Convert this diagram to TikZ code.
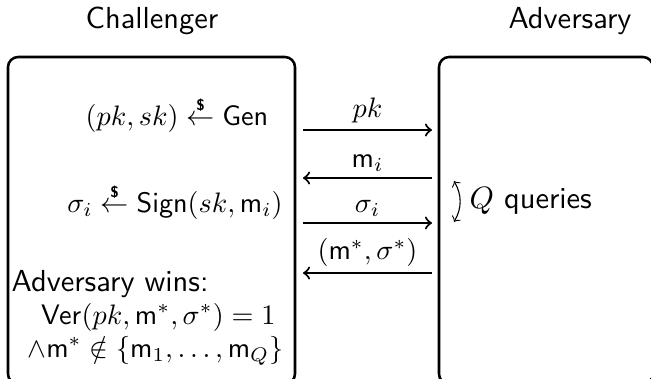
\documentclass[tikz,border=0pt]{standalone}
\usepackage{amsmath,amssymb}
\newcommand{\rnd}{\mathrel{\overset{\raisebox{-0.5ex}{\fontsize{5.5}{6}\sffamily\bfseries\$}}{\leftarrow}}}
\begin{document}
\begin{tikzpicture}[x=0.355pt,y=-0.355pt,font=\fontsize{10.8}{13}\sffamily,
  party/.style={draw,line width=0.9pt,rounded corners=3.6pt},
  msg/.style={line width=0.75pt,->},
  lbl/.style={anchor=base,inner sep=0pt},
  txt/.style={inner sep=0pt},
  mth/.style={inner sep=0pt,font=\fontsize{9.7}{12}\sffamily}]
\useasboundingbox (0,0) rectangle (651,378);
\clip (0,0) rectangle (651,378);
% headers
\node[lbl] (chal) at (152,28) {Challenger};
\node[lbl] (adv) at (570,28) {Adversary};
% boxes
\draw[party] (8,57) rectangle (295,384);
\draw[party] (439,57) rectangle (653,384);
% challenger contents
\node[mth,anchor=base] (gen) at (177,125) {$(pk,sk)\rnd\mathsf{Gen}$};
\node[mth,anchor=base] (sign) at (175,212) {$\sigma_i\rnd\mathsf{Sign}(sk,\mathsf{m}_i)$};
\node[txt,anchor=base west] (wins) at (11,291) {Adversary wins:};
\node[mth,anchor=base east] (ver) at (276,324) {$\mathsf{Ver}(pk,\mathsf{m}^*,\sigma^*)=1$};
\node[mth,anchor=base east] (notin) at (284,357) {$\wedge\mathsf{m}^*\notin\{\mathsf{m}_1,\ldots,\mathsf{m}_Q\}$};
% message endpoints
\coordinate (l1) at (303,130); \coordinate (r1) at (432,130);
\coordinate (l2) at (303,178); \coordinate (r2) at (432,178);
\coordinate (l3) at (303,223); \coordinate (r3) at (432,223);
\coordinate (l4) at (303,273); \coordinate (r4) at (432,273);
\draw[msg] (l1) -- node[mth,above=2pt] {$pk$} (r1);
\draw[msg] (r2) -- node[mth,above=2pt] {$\mathsf{m}_i$} (l2);
\draw[msg] (l3) -- node[mth,above=2pt] {$\sigma_i$} (r3);
\draw[msg] (r4) -- node[mth,above=2pt] {$(\mathsf{m}^*,\sigma^*)$} (l4);
% queries loop
\coordinate (qa) at (454,181); \coordinate (qb) at (454,222);
\draw[line width=0.4pt,<->] (qa) to[bend left=30] (qb);
\node[txt,anchor=base west] (q) at (469,208) {$Q$ queries};
\end{tikzpicture}
\end{document}
